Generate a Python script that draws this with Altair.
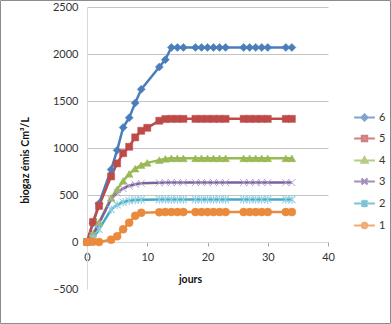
import altair as alt
import pandas as pd

# ---- data ----
days = [0, 1, 2, 4, 5, 6, 7, 8, 9, 12, 13, 14, 15, 16, 18, 19, 20, 21, 22, 23, 26, 27, 28, 29, 30, 33, 34]
days_b = [0, 1, 2, 4, 5, 6, 7, 8, 9, 10, 12, 13, 14, 15, 16, 18, 19, 20, 21, 22, 23, 26, 27, 28, 29, 30, 33, 34]

s6 = [0, 200, 410, 770, 975, 1218, 1322, 1478, 1624, 1862, 1940,
      2070, 2070, 2070, 2070, 2070, 2070, 2070, 2070, 2070, 2070, 2070, 2070, 2070, 2070, 2070, 2070]
s5 = [0, 213, 384, 698, 836, 945, 1013, 1113, 1183, 1215, 1290, 1308,
      1310, 1310, 1310, 1310, 1310, 1310, 1310, 1310, 1310, 1310, 1310, 1310, 1310, 1310, 1310, 1310]
s4 = [0, 90, 210, 470, 560, 650, 725, 780, 818, 842, 871, 885,
      890, 890, 890, 890, 890, 890, 890, 890, 890, 890, 890, 890, 890, 890, 890, 890]
s3 = [0, 70, 200, 455, 525, 570, 598, 614, 624, 630, 632,
      632, 632, 632, 632, 632, 632, 632, 632, 632, 632, 632, 632, 632, 632, 632, 632]
s2 = [0, 40, 135, 345, 395, 425, 440, 447, 450, 452, 452,
      452, 452, 452, 452, 452, 452, 452, 452, 452, 452, 452, 452, 452, 452, 452, 452]
s1 = [0, 3, 0, 25, 60, 135, 205, 278, 311, 316, 318,
      318, 318, 318, 318, 318, 318, 318, 318, 318, 318, 318, 318, 318, 318, 318, 318]

series_names = ["6", "5", "4", "3", "2", "1"]
series_days = [days, days_b, days_b, days, days, days]
series_vals = [s6, s5, s4, s3, s2, s1]
colors = ["#4A7EBB", "#BE4B48", "#98B954", "#7D60A0", "#46AAC5", "#E98A3C"]

FONT = "Lato"

# marker styles (plot)
X_PATH = "M-1,-1L1,1M-1,1L1,-1"
AST_PATH = "M-1,-1L1,1M-1,1L1,-1M0,-1.2L0,1.2"
marker_styles = [
    dict(shape="diamond", size=64, filled=True, fill=colors[0], stroke=colors[0], strokeWidth=0.5, opacity=1),
    dict(shape="square", size=50, filled=True, fill=colors[1], stroke=colors[1], strokeWidth=0.5, opacity=1),
    dict(shape="triangle-up", size=60, filled=True, fill=colors[2], stroke=colors[2], strokeWidth=0.5, opacity=1),
    dict(shape=X_PATH, size=50, filled=False, stroke="#B4A5CC", strokeWidth=1, opacity=1),
    dict(shape=AST_PATH, size=50, filled=False, stroke="#8CCFE2", strokeWidth=1.1, opacity=1),
    dict(shape="circle", size=64, filled=True, fill=colors[5], stroke=colors[5], strokeWidth=0.5, opacity=1),
]

# legend symbols: short line + marker
LINE = "M-2.6,0L2.6,0"
legend_shapes = [
    LINE + "M0,-0.75L0.75,0L0,0.75L-0.75,0Z",
    LINE + "M-0.65,-0.65L0.65,-0.65L0.65,0.65L-0.65,0.65Z",
    LINE + "M0,-0.8L0.75,0.55L-0.75,0.55Z",
    LINE + "M-0.75,-0.75L0.75,0.75M-0.75,0.75L0.75,-0.75",
    LINE + "M-0.75,-0.75L0.75,0.75M-0.75,0.75L0.75,-0.75M0,-0.95L0,0.95",
    LINE + "M-0.65,0A0.65,0.65 0 1,0 0.65,0A0.65,0.65 0 1,0 -0.65,0Z",
]

x_enc = alt.X(
    "jours:Q",
    scale=alt.Scale(domain=[0, 40], nice=False, zero=False),
    axis=alt.Axis(
        values=[0, 10, 20, 30, 40], offset=-47, grid=False, format="d",
        domainColor="#D9D9D9", domainWidth=1, tickColor="#A6A6A6", tickSize=4,
        labelPadding=5, labelFont=FONT, labelFontSize=11, labelColor="#333333",
        labelFlush=False,
        title="jours", titleFont=FONT, titleFontSize=10.5, titleFontWeight="bold",
        titleColor="#111111", titleX=103, titleY=37, titleAlign="center",
        titleBaseline="middle",
    ),
)
y_enc = alt.Y(
    "val:Q",
    scale=alt.Scale(domain=[-500, 2500], nice=False, zero=False),
    axis=alt.Axis(
        values=[-500, 0, 500, 1000, 1500, 2000, 2500], grid=True, format="d",
        gridColor={"condition": {"test": "datum.value < 0", "value": "transparent"}, "value": "#C4C4C4"},
        gridWidth=1,
        domainColor="#D9D9D9", ticks=False, tickSize=0, labelPadding=9,
        labelFont=FONT, labelFontSize=11, labelColor="#333333",
        title="biogaz émis Cm³/L", titleFont=FONT, titleFontSize=10.5,
        titleFontWeight="bold", titleColor="#111111",
        titleX=-62, titleY=153, titleAlign="center", titleBaseline="middle",
    ),
)

layers = []
for name, d, v, c in zip(series_names, series_days, series_vals, colors):
    df = pd.DataFrame({"jours": d, "val": v, "serie": name})
    layers.append(alt.Chart(df).mark_line(color=c, strokeWidth=2.5).encode(x=x_enc, y=y_enc))

for name, d, v, st in zip(series_names, series_days, series_vals, marker_styles):
    df = pd.DataFrame({"jours": d, "val": v, "serie": name})
    layers.append(alt.Chart(df).mark_point(**st).encode(x=x_enc, y=y_enc))

# legend layer (no visible marks; legend only)
leg_df = pd.DataFrame({"jours": [0] * 6, "val": [0] * 6, "serie": series_names})
legend_layer = alt.Chart(leg_df).transform_filter("false").mark_point(
    filled=False, size=64, strokeWidth=2.2
).encode(
    x=x_enc, y=y_enc,
    stroke=alt.Stroke("serie:N", scale=alt.Scale(domain=series_names, range=colors),
                      legend=alt.Legend(title=None)),
    fill=alt.Fill("serie:N", scale=alt.Scale(domain=series_names, range=colors),
                  legend=alt.Legend(title=None)),
    shape=alt.Shape("serie:N", scale=alt.Scale(domain=series_names, range=legend_shapes),
                    legend=alt.Legend(title=None)),
)
layers.append(legend_layer)

# chart border
border = alt.Chart(pd.DataFrame({"a": [0]})).mark_rect(
    fill="transparent", stroke="#8C8C8C", strokeWidth=1
).encode(
    x=alt.value(-86.5), x2=alt.value(303.5), y=alt.value(-6.5), y2=alt.value(316.5)
)

chart = alt.layer(border, *layers).properties(
    width=241, height=282,
    autosize=alt.AutoSizeParams(type="none"),
    padding={"left": 87, "top": 7, "right": 63, "bottom": 35},
    background="white",
).configure_view(stroke=None).configure_legend(
    orient="none", legendX=272, legendY=105, padding=0,
    labelFont=FONT, labelFontSize=11, labelColor="#333333", labelOffset=9,
    symbolSize=64, symbolStrokeWidth=2.2, rowPadding=6, symbolType="circle",
)

chart.save("out.html", embed_options={"renderer": "svg", "actions": False})
